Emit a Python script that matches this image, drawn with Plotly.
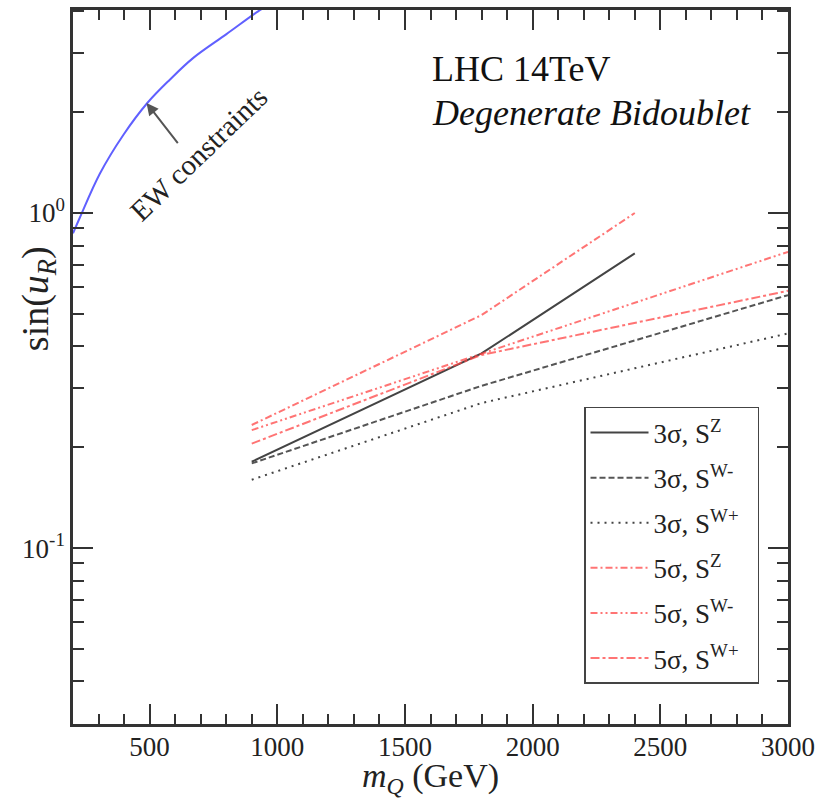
import math
import plotly.graph_objects as go

# ---------------- data ----------------
m_ew = [200, 227, 305, 397, 491, 579, 670, 801, 925, 960]
sin_ew = [0.87, 0.97, 1.31, 1.71, 2.13, 2.50, 2.90, 3.42, 4.0, 4.15]

m_z = [900, 1800, 2400]
m_w = [900, 1800, 3000]

s3_Z = [0.181, 0.381, 0.758]
s3_Wm = [0.179, 0.305, 0.569]
s3_Wp = [0.160, 0.271, 0.437]
s5_Z = [0.233, 0.496, 1.0]
s5_Wm = [0.225, 0.381, 0.766]
s5_Wp = [0.205, 0.377, 0.586]

names = ["3σ, S<sup>Z</sup>", "3σ, S<sup>W-</sup>", "3σ, S<sup>W+</sup>",
         "5σ, S<sup>Z</sup>", "5σ, S<sup>W-</sup>", "5σ, S<sup>W+</sup>"]

x_ticks = [500, 1000, 1500, 2000, 2500, 3000]
y_ticks = [0.1, 1]
y_ticktext = ["10<sup>-1</sup>", "10<sup>0</sup>"]
y_minor = [0.03, 0.04, 0.05, 0.06, 0.07, 0.08, 0.09,
           0.2, 0.3, 0.4, 0.5, 0.6, 0.7, 0.8, 0.9, 2, 3, 4]

# arrow / label positions (data units)
arrow_tip = (488, 2.13)
arrow_tail = (615, 1.60)
ew_label = (692, 1.50)

FONT = "Liberation Serif"
GREY = "#444444"
RED = "rgba(255,70,70,0.75)"

fig = go.Figure()

fig.add_trace(go.Scatter(x=m_ew, y=sin_ew, mode="lines", showlegend=False,
                         line=dict(color="#6060ff", width=2, shape="spline",
                                   smoothing=1.0),
                         hoverinfo="skip"))

series = [
    (m_z, s3_Z, dict(color=GREY, width=2)),
    (m_w, s3_Wm, dict(color="#555555", width=2, dash="6px,3px")),
    (m_w, s3_Wp, dict(color=GREY, width=2, dash="2px,5px")),
    (m_z, s5_Z, dict(color=RED, width=2, dash="7px,3px,2px,3px")),
    (m_w, s5_Wm, dict(color=RED, width=2, dash="7px,3px,2px,3px,2px,3px")),
    (m_w, s5_Wp, dict(color=RED, width=2, dash="9px,3px,3px,3px")),
]
for i, (xs, ys, ln) in enumerate(series):
    fig.add_trace(go.Scatter(x=xs, y=ys, mode="lines",
                             name=names[i] + "\u00a0\u00a0",
                             legendgroup=f"g{i}", line=ln))

axis_common = dict(
    showline=True, linecolor="#333333", linewidth=2.5, mirror="allticks",
    ticks="inside", tickcolor="#333333", tickwidth=2, ticklen=20,
    showgrid=False, zeroline=False, automargin=False,
    tickfont=dict(family=FONT, size=27, color="#222222"),
)

fig.update_xaxes(
    range=[200, 3000], tickmode="array", tickvals=x_ticks,
    ticklabelstandoff=-3,
    minor=dict(ticks="inside", dtick=100, tick0=0, ticklen=10,
               tickwidth=2, tickcolor="#333333", showgrid=False),
    title=dict(text="<i>m</i><sub><i>Q</i></sub> (GeV)",
               font=dict(family=FONT, size=34, color="#222222"), standoff=14),
    **axis_common,
)
fig.update_yaxes(
    type="log", range=[-1.525, 0.606], tickmode="array",
    tickvals=y_ticks, ticktext=y_ticktext,
    minor=dict(ticks="inside", tickvals=y_minor, ticklen=11,
               tickwidth=2, tickcolor="#333333", showgrid=False),
    **axis_common,
)

# y-axis title (placed where the reference has it)
fig.add_annotation(x=-0.048, y=0.596, xref="paper", yref="paper",
                   text="sin(<i>u</i><sub><i>R</i></sub>)", showarrow=False,
                   textangle=-90, xanchor="center", yanchor="middle",
                   font=dict(family=FONT, size=38, color="#222222"))

fig.add_annotation(x=arrow_tip[0], y=math.log10(arrow_tip[1]),
                   ax=arrow_tail[0], ay=math.log10(arrow_tail[1]),
                   xref="x", yref="y", axref="x", ayref="y", text="",
                   showarrow=True, arrowhead=2, arrowsize=1.2, arrowwidth=2,
                   arrowcolor="#555555")
fig.add_annotation(x=ew_label[0], y=math.log10(ew_label[1]), xref="x", yref="y",
                   text="EW constraints", showarrow=False, textangle=-44,
                   font=dict(family=FONT, size=29, color="#222222"))

fig.add_annotation(x=0.499, y=0.918, xref="paper", yref="paper",
                   xanchor="left", yanchor="middle", showarrow=False,
                   text="LHC 14TeV",
                   font=dict(family=FONT, size=36, color="#111111"))
fig.add_annotation(x=0.499, y=0.856, xref="paper", yref="paper",
                   xanchor="left", yanchor="middle", showarrow=False,
                   text="<i>Degenerate Bidoublet</i>",
                   font=dict(family=FONT, size=36, color="#111111"))

fig.update_layout(
    width=829, height=799,
    margin=dict(l=73, r=41, t=10, b=75),
    plot_bgcolor="white", paper_bgcolor="white",
    legend=dict(x=0.7147, y=0.444, xanchor="left", yanchor="top",
                bgcolor="white", bordercolor="#444444", borderwidth=1.5,
                font=dict(family=FONT, size=27, color="#222222"),
                tracegroupgap=7, traceorder="grouped",
                itemwidth=58),
)

fig.write_html("out.html")
